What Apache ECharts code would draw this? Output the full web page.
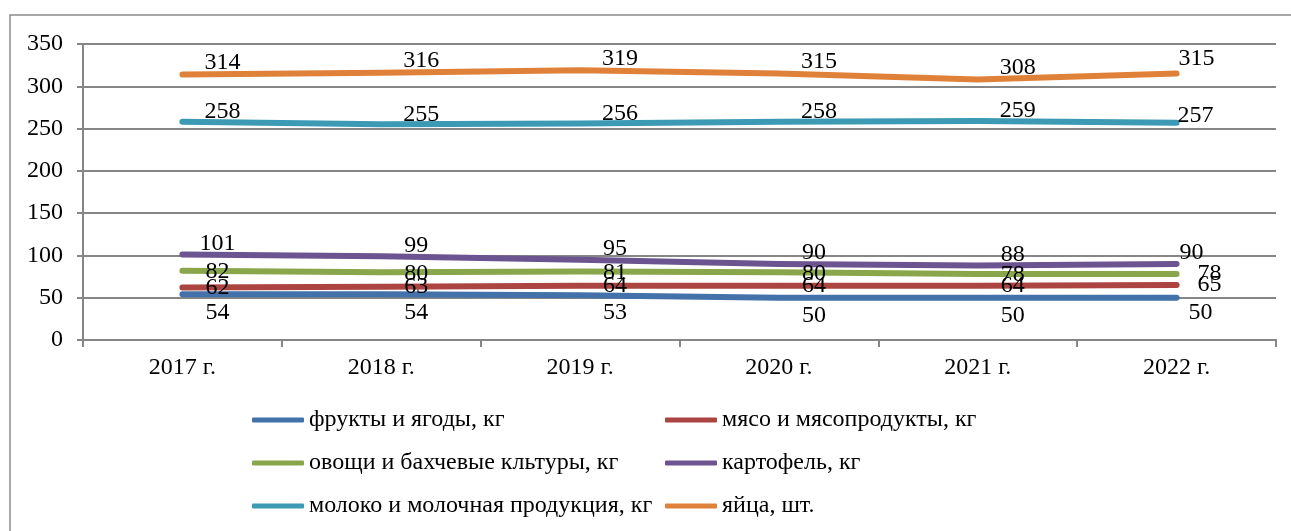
<!DOCTYPE html>
<html>
<head>
<meta charset="utf-8">
<script src="https://cdn.jsdelivr.net/npm/echarts@6/dist/echarts.min.js"></script>
<style>
  html, body { margin: 0; padding: 0; background: #fff; }
  #chart { width: 1291px; height: 531px; }
</style>
</head>
<body>
<div id="chart"></div>
<script>
// categories and values
const years = ['2017 г.', '2018 г.', '2019 г.', '2020 г.', '2021 г.', '2022 г.']
const fruits = [54, 54, 53, 50, 50, 50]
const meat = [62, 63, 64, 64, 64, 65]
const vegetables = [82, 80, 81, 80, 78, 78]
const potatoes = [101, 99, 95, 90, 88, 90]
const milk = [258, 255, 256, 258, 259, 257]
const eggs = [314, 316, 319, 315, 308, 315]
const yTicks = { min: 0, max: 350, step: 50 }

const font = 'Liberation Serif'
const fontSize = 24

// label offsets copy where the labels sit in the picture
const seriesDefs = [
  { name: 'фрукты и ягоды, кг', data: fruits, color: '#4371AA', offset: [35, 18], lastOffset: [24, 15] },
  { name: 'мясо и мясопродукты, кг', data: meat, color: '#AC4442', offset: [35, 0], lastOffset: [33, 0] },
  { name: 'овощи и бахчевые кльтуры, кг', data: vegetables, color: '#8AA64B', offset: [35, 1], lastOffset: [33, 0] },
  { name: 'картофель, кг', data: potatoes, color: '#6C5490', offset: [35, -11], lastOffset: [15, -11] },
  { name: 'молоко и молочная продукция, кг', data: milk, color: '#3D9AB4', offset: [40, -10], lastOffset: [19, -7] },
  { name: 'яйца, шт.', data: eggs, color: '#E0813A', offset: [40, -12], lastOffset: [20, -15] }
]

const chart = echarts.init(document.getElementById('chart'))

let series = []
for (let def of seriesDefs) {
  let items = def.data.map((v, i) => {
    let item = { value: v }
    if (i === def.data.length - 1) {
      item.label = { offset: def.lastOffset }
    }
    return item
  })
  series.push({
    name: def.name,
    type: 'line',
    data: items,
    color: def.color,
    symbol: 'circle',
    symbolSize: 2,
    showSymbol: true,
    animation: false,
    lineStyle: { width: 6, cap: 'round', join: 'round', color: def.color },
    itemStyle: { color: def.color },
    label: {
      show: true,
      position: 'inside',
      offset: def.offset,
      color: '#000',
      fontFamily: font,
      fontSize: fontSize
    },
    z: 3
  })
}

const legendText = {
  color: '#000',
  fontFamily: font,
  fontSize: fontSize,
  lineHeight: 24
}

chart.setOption({
  backgroundColor: '#fff',
  textStyle: { fontFamily: font },
  graphic: [{
    type: 'rect',
    shape: { x: 10, y: 15, width: 1290, height: 530 },
    style: { fill: null, stroke: '#8c8c8c', lineWidth: 1.5 },
    silent: true
  }],
  grid: {
    left: 83,
    right: 15,
    top: 44,
    bottom: 191,
    containLabel: false
  },
  xAxis: {
    type: 'category',
    data: years,
    boundaryGap: true,
    axisLine: { lineStyle: { color: '#868686', width: 2 } },
    axisTick: { show: true, length: 7, inside: false, lineStyle: { color: '#868686', width: 2 } },
    axisLabel: { color: '#000', fontFamily: font, fontSize: fontSize, margin: 16 }
  },
  yAxis: {
    type: 'value',
    min: yTicks.min,
    max: yTicks.max,
    interval: yTicks.step,
    axisLine: { show: true, lineStyle: { color: '#868686', width: 2 } },
    axisTick: { show: true, length: 6, lineStyle: { color: '#868686', width: 2 } },
    axisLabel: { color: '#000', fontFamily: font, fontSize: fontSize, margin: 20 },
    splitLine: { lineStyle: { color: '#868686', width: 2 } }
  },
  legend: [
    {
      orient: 'vertical',
      left: 252,
      top: 408,
      padding: 0,
      itemWidth: 52,
      itemHeight: 5,
      itemGap: 19,
      icon: 'roundRect',
      data: [seriesDefs[0].name, seriesDefs[2].name, seriesDefs[4].name],
      textStyle: legendText
    },
    {
      orient: 'vertical',
      left: 665,
      top: 408,
      padding: 0,
      itemWidth: 52,
      itemHeight: 5,
      itemGap: 19,
      icon: 'roundRect',
      data: [seriesDefs[1].name, seriesDefs[3].name, seriesDefs[5].name],
      textStyle: legendText
    }
  ],
  series: series
})
</script>
</body>
</html>
